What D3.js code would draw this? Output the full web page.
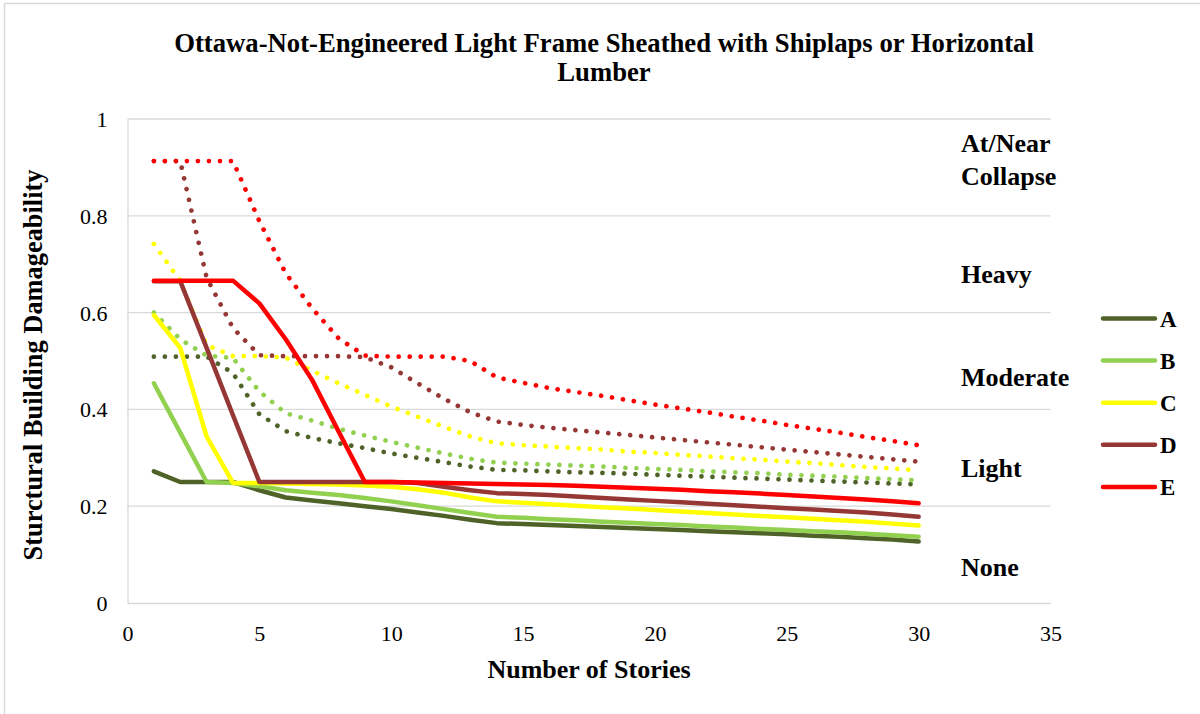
<!DOCTYPE html>
<html>
<head>
<meta charset="utf-8">
<script src="https://cdn.jsdelivr.net/npm/d3@7"></script>
<style>
  html, body { margin: 0; padding: 0; background: #fff; }
  svg { display: block; }
</style>
</head>
<body>
<svg id="chart" width="1200" height="714"></svg>
<script>
// ---- Data ----
const stories = [1,2,3,4,5,6,7,8,9,10,11,12,13,14,15,16,17,18,19,20,21,22,23,24,25,26,27,28,29,30];
const seriesNames = ["A","B","C","D","E"];
const seriesColors = ["#4F6228","#92D050","#FFFF00","#953735","#FF0000"];

// solid lines (shown in legend)
const solidA = [0.272,0.250,0.250,0.250,0.233,0.218,0.212,0.206,0.200,0.194,0.187,0.180,0.172,0.165,0.163,0.161,0.159,0.157,0.155,0.153,0.151,0.148,0.146,0.144,0.142,0.139,0.137,0.134,0.131,0.127];
const solidB = [0.454,0.352,0.250,0.248,0.241,0.233,0.228,0.223,0.217,0.210,0.202,0.194,0.186,0.178,0.176,0.173,0.171,0.168,0.166,0.163,0.161,0.158,0.156,0.153,0.151,0.148,0.146,0.143,0.140,0.137];
const solidC = [0.595,0.527,0.344,0.248,0.248,0.247,0.246,0.245,0.243,0.240,0.235,0.228,0.218,0.210,0.207,0.204,0.201,0.198,0.195,0.192,0.189,0.186,0.183,0.180,0.177,0.174,0.171,0.168,0.164,0.160];
const solidD = [0.665,0.665,0.527,0.388,0.250,0.250,0.250,0.250,0.250,0.250,0.248,0.240,0.233,0.227,0.225,0.223,0.220,0.217,0.214,0.211,0.208,0.205,0.202,0.199,0.196,0.193,0.190,0.187,0.183,0.178];
const solidE = [0.666,0.666,0.666,0.666,0.619,0.545,0.461,0.355,0.250,0.250,0.249,0.248,0.247,0.246,0.245,0.244,0.242,0.240,0.238,0.236,0.234,0.231,0.229,0.226,0.223,0.220,0.217,0.214,0.210,0.206];

// dotted lines (same colours, not in legend)
const dottedA = [0.509,0.509,0.509,0.475,0.390,0.355,0.341,0.330,0.320,0.309,0.300,0.291,0.282,0.275,0.274,0.272,0.270,0.269,0.267,0.265,0.263,0.261,0.259,0.257,0.255,0.253,0.251,0.249,0.247,0.245];
const dottedB = [0.600,0.545,0.511,0.506,0.437,0.392,0.377,0.360,0.346,0.333,0.321,0.309,0.298,0.290,0.288,0.286,0.284,0.282,0.279,0.277,0.275,0.272,0.270,0.268,0.265,0.263,0.261,0.258,0.256,0.253];
const dottedC = [0.742,0.665,0.533,0.510,0.510,0.507,0.480,0.454,0.430,0.406,0.385,0.364,0.344,0.330,0.326,0.323,0.320,0.317,0.313,0.310,0.306,0.303,0.299,0.296,0.292,0.289,0.285,0.281,0.278,0.274];
const dottedD = [0.913,0.913,0.672,0.568,0.512,0.510,0.510,0.510,0.508,0.487,0.454,0.422,0.394,0.375,0.368,0.362,0.357,0.352,0.347,0.342,0.337,0.332,0.327,0.322,0.317,0.312,0.307,0.302,0.297,0.292];
const dottedE = [0.913,0.913,0.913,0.913,0.789,0.681,0.609,0.547,0.511,0.509,0.509,0.509,0.500,0.466,0.455,0.444,0.436,0.428,0.419,0.410,0.402,0.394,0.385,0.377,0.368,0.360,0.352,0.343,0.335,0.326];

const xTicks = [0,5,10,15,20,25,30,35];
const yTicks = [0,0.2,0.4,0.6,0.8,1];
const damageLabels = [["At/Near","Collapse"],["Heavy"],["Moderate"],["Light"],["None"]];

const titleLines = ["Ottawa-Not-Engineered Light Frame Sheathed with Shiplaps or Horizontal","Lumber"];
const xTitle = "Number of Stories";
const yTitle = "Sturctural Building Damageability";

// ---- Chart ----
const FONT = "Liberation Serif";
const svg = d3.select("#chart");
const x = d3.scaleLinear().domain([0,35]).range([127.5,1050.5]);
const y = d3.scaleLinear().domain([0,1]).range([603,119]);

// outer frame (top & left edges visible)
svg.append("line").attr("x1",4).attr("x2",1200).attr("y1",3.5).attr("y2",3.5).attr("stroke","#D9D9D9").attr("stroke-width",1.5);
svg.append("line").attr("x1",4.5).attr("x2",4.5).attr("y1",3).attr("y2",714).attr("stroke","#D9D9D9").attr("stroke-width",1.5);

// gridlines
svg.append("g").selectAll("line").data(yTicks.filter(d=>d>0)).join("line")
  .attr("x1",x(0)).attr("x2",x(35)).attr("y1",d=>y(d)).attr("y2",d=>y(d))
  .attr("stroke","#D9D9D9").attr("stroke-width",1.3);

// axes
const xAxis = svg.append("g").attr("transform",`translate(0,${y(0)})`)
  .call(d3.axisBottom(x).tickValues(xTicks).tickSize(0).tickPadding(22).tickFormat(d3.format("d")));
const yAxis = svg.append("g").attr("transform",`translate(${x(0)},0)`)
  .call(d3.axisLeft(y).tickValues(yTicks).tickSize(0).tickPadding(20).tickFormat(d=>d===0?"0":d===1?"1":d3.format(".1f")(d)));
[xAxis,yAxis].forEach(g=>{
  g.attr("font-family",FONT).attr("font-size",22);
  g.select(".domain").attr("stroke","#D9D9D9").attr("stroke-width",1.3);
  g.selectAll("text").attr("fill","#000").style("font-family",FONT).style("font-size","22px");
});
yAxis.selectAll("text").attr("dy","0.34em");
xAxis.selectAll("text").attr("dy","0.71em");

// lines
const line = d3.line().x((d,i)=>x(stories[i])).y(d=>y(d));
const dotted = [dottedA,dottedB,dottedC,dottedD,dottedE];
const solid = [solidA,solidB,solidC,solidD,solidE];
const plot = svg.append("g");
dotted.forEach((s,k)=>{
  plot.append("path").datum(s).attr("d",line).attr("fill","none")
    .attr("stroke",seriesColors[k]).attr("stroke-width",4.7)
    .attr("stroke-linecap","round").attr("stroke-dasharray","0.01,11");
});
solid.forEach((s,k)=>{
  plot.append("path").datum(s).attr("d",line).attr("fill","none")
    .attr("stroke",seriesColors[k]).attr("stroke-width",4.5)
    .attr("stroke-linejoin","round").attr("stroke-linecap","round");
});

function txt(sel){ return sel.style("font-family",FONT).attr("font-weight","bold").attr("fill","#000"); }

// title
const title = txt(svg.append("text")).attr("text-anchor","middle").style("font-size","26.7px");
titleLines.forEach((t,i)=>title.append("tspan").attr("x",604).attr("y",51.5+i*29.5).text(t));

// axis titles
txt(svg.append("text")).attr("x",589).attr("y",678).attr("text-anchor","middle").style("font-size","26px").text(xTitle);
txt(svg.append("text")).attr("transform","translate(42,365) rotate(-90)").attr("text-anchor","middle").style("font-size","26.4px").text(yTitle);

// damage state labels
const lblBase = [[152.3,185],[283.3],[385.7],[477.3],[576]];
damageLabels.forEach((lines,i)=>{
  lines.forEach((t,j)=>{
    txt(svg.append("text")).attr("x",961).attr("y",lblBase[i][j]).style("font-size","26px").text(t);
  });
});

// legend
const legend = svg.append("g");
seriesNames.forEach((n,i)=>{
  const ly = 318.5 + i*42.1;
  legend.append("line").attr("x1",1103).attr("x2",1155).attr("y1",ly).attr("y2",ly)
    .attr("stroke",seriesColors[i]).attr("stroke-width",4.5).attr("stroke-linecap","round");
  txt(legend.append("text")).attr("x",1160).attr("y",ly+8.3).style("font-size","23px").text(n);
});
</script>
</body>
</html>
